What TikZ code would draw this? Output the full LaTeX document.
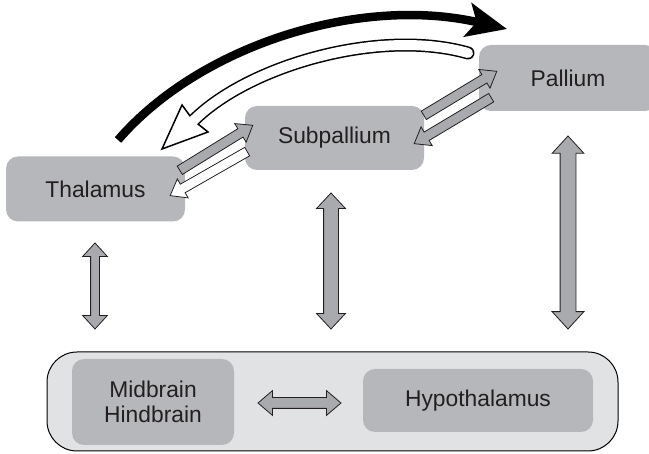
\documentclass[tikz,border=0pt]{standalone}
\usepackage{fontspec}
\setmainfont{Liberation Sans}
\usetikzlibrary{arrows.meta,shapes.arrows,calc}

\definecolor{boxgray}{HTML}{B6B7BA}
\definecolor{arrgray}{HTML}{A9AAAD}
\definecolor{stemgray}{HTML}{E1E2E4}
\definecolor{inkgray}{HTML}{231F20}

\tikzset{
    region/.style={fill=boxgray, rounded corners=12pt, text=inkgray, align=center,
        inner sep=0pt, font=\fontsize{22.8}{25}\selectfont},
    blkarrow/.style={single arrow, draw=inkgray, fill=arrgray, line width=0.8pt, inner xsep=0pt,
        inner ysep=4.5pt, single arrow head extend=6pt, single arrow tip angle=74},
    openarrow/.style={blkarrow, fill=white},
    dblarrow/.style={double arrow, draw=inkgray, fill=arrgray, line width=0.8pt, inner xsep=0pt},
}

% block arrow as a node stretched between two points: style, name, from, to
\newcommand\blockarrow[4]{%
    \path let \p1=($(#4)-(#3)$), \n1={veclen(\x1,\y1)} in
        (#3) -- (#4) node[midway, sloped, allow upside down, #1, minimum height=\n1] (#2) {};}

\begin{document}
\begin{tikzpicture}[x=1pt, y=-1pt]

    \useasboundingbox (0,0) rectangle (649,454);

    %boxes
    \node[region, minimum width=179pt, minimum height=65pt] (thal) at (95.5,189) {Thalamus};
    \node[region, minimum width=179pt, minimum height=64pt] (subp) at (334.5,138) {Subpallium};
    \node[region, minimum width=178pt, minimum height=66pt] (pall) at (568,78) {Pallium};
    \node[draw=black, fill=stemgray, line width=1pt, rounded corners=30pt,
        minimum width=571pt, minimum height=99pt] (stem) at (332.5,401.5) {};
    \node[region, minimum width=162pt, minimum height=86pt] (midb) at (153,402) {Midbrain\\Hindbrain};
    \node[region, minimum width=230pt, minimum height=63pt] (hypo) at (478,400.5) {Hypothalamus};

    %arrow ends
    \coordinate (ts1) at (177,172);  \coordinate (ts2) at (250,127);
    \coordinate (st1) at (250,150);  \coordinate (st2) at (173,194);
    \coordinate (sp1) at (421,117);  \coordinate (sp2) at (494,73);
    \coordinate (ps1) at (494,96);   \coordinate (ps2) at (417,142);
    \coordinate (v1a) at (95,243);   \coordinate (v1b) at (95,329);
    \coordinate (v2a) at (331,193);  \coordinate (v2b) at (331,329);
    \coordinate (v3a) at (568,136);  \coordinate (v3b) at (568,329);
    \coordinate (h1a) at (258,403);  \coordinate (h1b) at (341,403);

    %diagonal arrows
    \blockarrow{blkarrow}{thal2subp}{ts1}{ts2}
    \blockarrow{openarrow}{subp2thal}{st1}{st2}
    \blockarrow{blkarrow}{subp2pall}{sp1}{sp2}
    \blockarrow{blkarrow}{pall2subp}{ps1}{ps2}

    %vertical and horizontal arrows
    \blockarrow{dblarrow, inner ysep=4pt, double arrow head extend=8pt, double arrow tip angle=85}{thal2stem}{v1a}{v1b}
    \blockarrow{dblarrow, inner ysep=7pt, double arrow head extend=7pt, double arrow tip angle=86}{subp2stem}{v2a}{v2b}
    \blockarrow{dblarrow, inner ysep=7.5pt, double arrow head extend=8pt, double arrow tip angle=85}{pall2stem}{v3a}{v3b}
    \blockarrow{dblarrow, inner ysep=5pt, double arrow head extend=7pt, double arrow tip angle=81}{midb2hypo}{h1a}{h1b}

    %big curved arrows
    \coordinate (arcA) at (118,140);
    \coordinate (arcB) at (507,29);
    \draw[line width=8.5pt, -{Stealth[length=40pt, width=34pt, inset=9pt]}]
        (arcA) .. controls (200,45) and (360,-5) .. (arcB);

    \coordinate (retA) at (468,53);
    \coordinate (retB) at (194,120);
    \draw[line width=13pt, line cap=round] (retA) .. controls (380,28) and (250,65) .. (retB) -- +(-6,6);
    \filldraw[fill=white, line width=1.5pt] (162,149) -- (182,105) -- (193,120) -- (208,132) -- cycle;
    \draw[white, line width=10pt, line cap=round] (retA) .. controls (380,28) and (250,65) .. (retB) -- +(-6,6);

\end{tikzpicture}
\end{document}
